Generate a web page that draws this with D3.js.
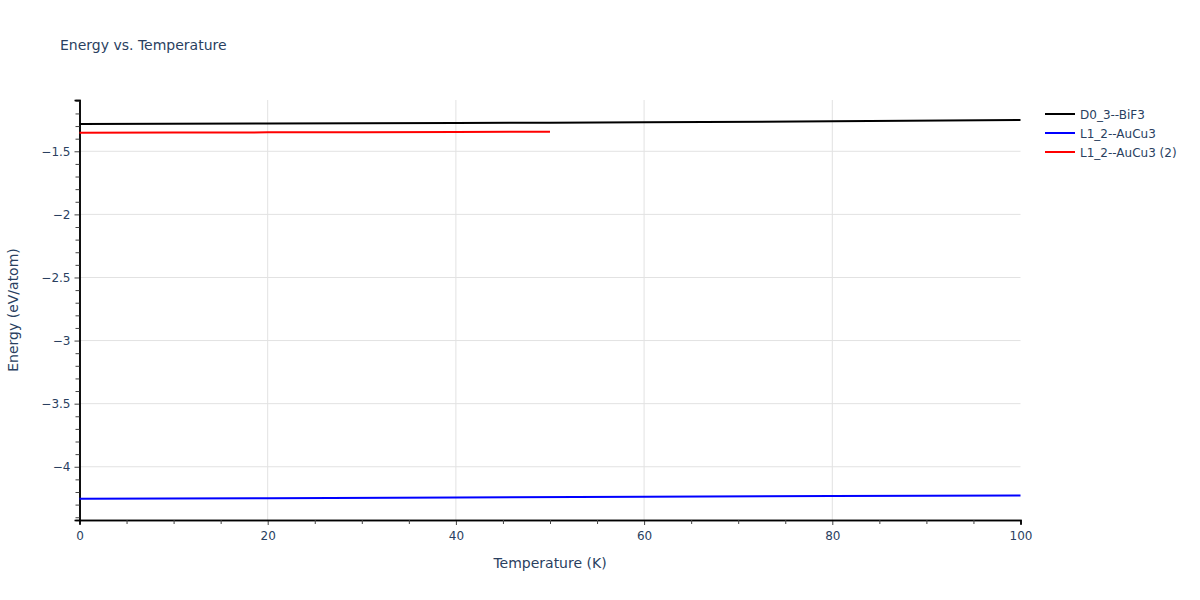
<!DOCTYPE html>
<html><head><meta charset="utf-8">
<script src="https://cdn.jsdelivr.net/npm/d3@7"></script>
<style>body{margin:0;background:#fff}svg{font-family:"DejaVu Sans",Verdana,sans-serif}</style>
</head><body>
<svg id="c" width="1200" height="600"></svg>
<script>
const seriesNames = ["D0_3--BiF3", "L1_2--AuCu3", "L1_2--AuCu3 (2)"];
const seriesColors = ["#000000", "#0000ff", "#ff0000"];
const tempsD03 = [0, 20, 40, 50, 60, 80, 100];
const energyD03 = [-1.284, -1.280, -1.276, -1.273, -1.270, -1.262, -1.252];
const tempsL12 = [0, 20, 40, 60, 80, 100];
const energyL12 = [-4.254, -4.249, -4.243, -4.237, -4.232, -4.227];
const tempsL12b = [0, 10, 20, 30, 40, 50];
const energyL12b = [-1.353, -1.352, -1.350, -1.349, -1.347, -1.345];
const xTicks = [0, 20, 40, 60, 80, 100];
const yTicks = [-1.5, -2, -2.5, -3, -3.5, -4];

const series = [
  {name: seriesNames[0], color: seriesColors[0], x: tempsD03, y: energyD03},
  {name: seriesNames[1], color: seriesColors[1], x: tempsL12, y: energyL12},
  {name: seriesNames[2], color: seriesColors[2], x: tempsL12b, y: energyL12b}
];

const svg = d3.select("#c");
const FONT = '"DejaVu Sans",Verdana,sans-serif';
const L = 79.5, R = 1020.5, T = 100, B = 520;
const x = d3.scaleLinear().domain([0, 100]).range([L, R]);
const y = d3.scaleLinear().domain([-4.422, -1.0935]).range([B, T]);
const txt = "#2a3f5f";
const fmt = v => String(v).replace("-", "\u2212");

// grid
svg.append("g").selectAll("line").data(xTicks.filter(d => d > 0 && d < 100)).join("line")
  .attr("x1", d => x(d)).attr("x2", d => x(d)).attr("y1", T).attr("y2", B)
  .attr("stroke", "#e2e2e2").attr("stroke-width", 1);
svg.append("g").selectAll("line").data(yTicks).join("line")
  .attr("x1", L).attr("x2", R).attr("y1", d => y(d)).attr("y2", d => y(d))
  .attr("stroke", "#e2e2e2").attr("stroke-width", 1);

// axes
const xAxis = svg.append("g").attr("transform", `translate(0,${B})`)
  .call(d3.axisBottom(x).tickValues(xTicks).tickFormat(fmt).tickSize(5).tickPadding(6));
const xMinor = svg.append("g").attr("transform", `translate(0,${B})`)
  .call(d3.axisBottom(x).tickValues(d3.range(0, 101, 5).filter(d => d % 20 !== 0)).tickFormat("").tickSize(4));
const yAxis = svg.append("g").attr("transform", `translate(${L},0)`)
  .call(d3.axisLeft(y).tickValues(yTicks).tickFormat(fmt).tickSize(5).tickPadding(4));
const yMinor = svg.append("g").attr("transform", `translate(${L},0)`)
  .call(d3.axisLeft(y).tickValues(d3.range(-44, -10, 1).map(v => v / 10).filter(v => Math.abs(v * 2 - Math.round(v * 2)) > 1e-6)).tickFormat("").tickSize(4));
[xAxis, yAxis, xMinor, yMinor].forEach(g => {
  g.select(".domain").attr("stroke", "#000").attr("stroke-width", 1.5);
  g.selectAll(".tick line").attr("stroke", "#444");
  g.selectAll("text").attr("fill", txt).attr("font-size", 12).attr("font-family", FONT);
});

// lines
const line = d3.line().x(d => x(d[0])).y(d => y(d[1]));
svg.append("g").selectAll("path").data(series).join("path")
  .attr("d", s => line(s.x.map((v, i) => [v, s.y[i]])))
  .attr("fill", "none").attr("stroke", s => s.color).attr("stroke-width", 2);

// titles
svg.append("text").attr("x", 60).attr("y", 50).attr("fill", txt).attr("font-size", 14).text("Energy vs. Temperature");
svg.append("text").attr("x", (L + R) / 2).attr("y", 568).attr("text-anchor", "middle").attr("fill", txt).attr("font-size", 14).text("Temperature (K)");
svg.append("text").attr("transform", `translate(18,${(T + B) / 2}) rotate(-90)`).attr("text-anchor", "middle").attr("fill", txt).attr("font-size", 14).text("Energy (eV/atom)");

// legend
const lg = svg.append("g").selectAll("g").data(series).join("g")
  .attr("transform", (d, i) => `translate(1045,${114 + i * 19})`);
lg.append("line").attr("x1", 0).attr("x2", 30).attr("stroke", d => d.color).attr("stroke-width", 2);
lg.append("text").attr("x", 35).attr("y", 4.5).attr("fill", txt).attr("font-size", 12).text(d => d.name);
</script>
</body></html>
